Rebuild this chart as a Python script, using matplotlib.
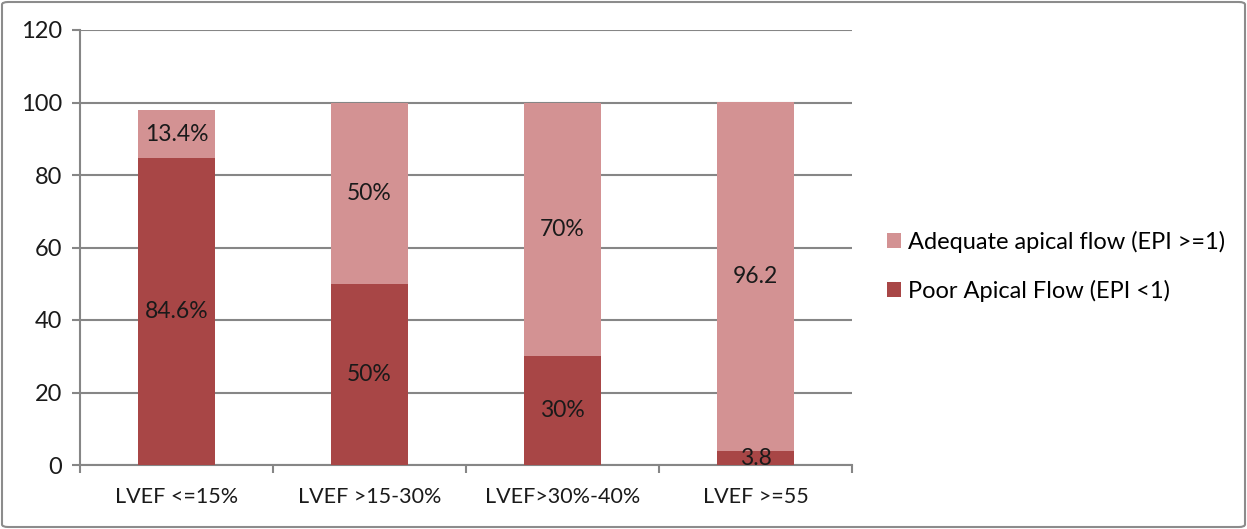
import matplotlib.pyplot as plt
import numpy as np
from matplotlib.patches import FancyBboxPatch

plt.rcParams['font.family'] = ['Lato', 'DejaVu Sans']

categories = ['LVEF <=15%', 'LVEF >15-30%', 'LVEF>30%-40%', 'LVEF >=55']
poor = [84.6, 50, 30, 3.8]
adequate = [13.4, 50, 70, 96.2]
poor_labels = ['84.6%', '50%', '30%', '3.8']
adequate_labels = ['13.4%', '50%', '70%', '96.2']

dark = '#A84646'
light = '#D39293'
grid = '#868686'

fig = plt.figure(figsize=(12.47, 5.29), dpi=100)
ax = fig.add_axes([80 / 1247, 64 / 529, 772 / 1247, 435 / 529])

x = np.arange(len(categories))
b1 = ax.bar(x, poor, width=0.395, color=dark, label='Poor Apical Flow (EPI <1)', zorder=3)
b2 = ax.bar(x, adequate, width=0.395, bottom=poor, color=light,
            label='Adequate apical flow (EPI >=1)', zorder=3)

for i in range(len(x)):
    ax.text(x[i], poor[i] / 2, poor_labels[i], ha='center', va='center', fontsize=16.5,
            color='#1a1a1a', zorder=4)
    ax.text(x[i], poor[i] + adequate[i] / 2, adequate_labels[i], ha='center', va='center',
            fontsize=16.5, color='#1a1a1a', zorder=4)

ax.set_xlim(-0.5, len(categories) - 0.5)
ax.set_ylim(0, 120)
ax.set_yticks(range(0, 121, 20))
ax.yaxis.grid(True, color=grid, linewidth=1.5, zorder=0)
ax.set_xticks(x)
ax.set_xticklabels(categories)
ax.set_xticks(np.arange(-0.5, len(categories), 1), minor=True)
ax.tick_params(axis='x', which='major', length=0, pad=16, labelsize=15.5, colors='#1a1a1a')
ax.tick_params(axis='x', which='minor', length=6, width=1.5, color=grid)
ax.tick_params(axis='y', length=6, width=1.5, color=grid, labelsize=17, labelcolor='#1a1a1a', pad=7)
for s in ['top', 'right']:
    ax.spines[s].set_visible(False)
for s in ['left', 'bottom']:
    ax.spines[s].set_color(grid)
    ax.spines[s].set_linewidth(1.5)

handles = [b2, b1]
ax.legend(handles, [h.get_label() for h in handles], loc='center left',
          bbox_to_anchor=(1.045, 0.457), frameon=False, fontsize=17,
          handlelength=0.6, handleheight=0.6, handletextpad=0.3, labelspacing=1.15,
          borderaxespad=0, borderpad=0)

border = FancyBboxPatch((2 / 1247, 2 / 529), 1243 / 1247, 525 / 529,
                        boxstyle='round,pad=0,rounding_size=0.005',
                        transform=fig.transFigure, fill=False, edgecolor='#8c8c8c',
                        linewidth=1.5)
fig.patches.append(border)

fig.savefig('out.png', dpi=100)
